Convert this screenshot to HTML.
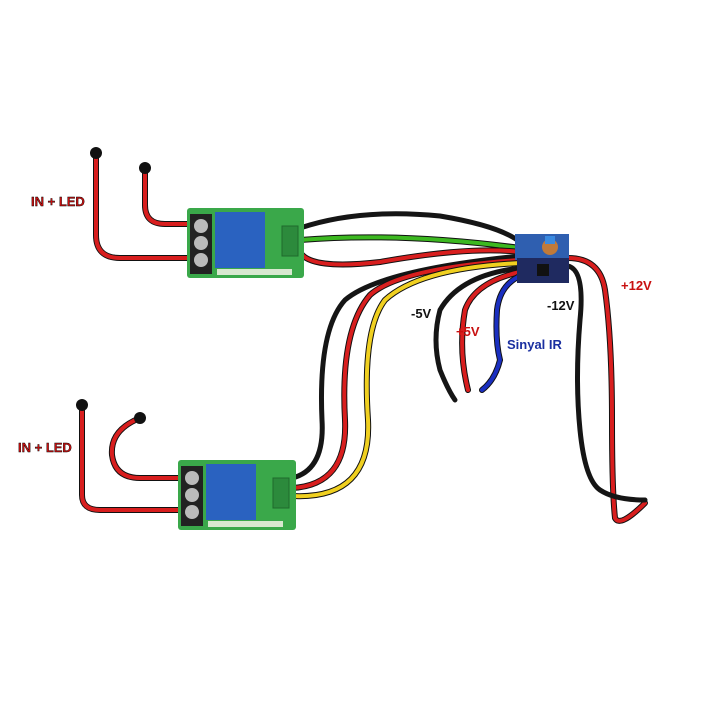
<!DOCTYPE html>
<html><head><style>
html,body{margin:0;padding:0;background:#fff;}
svg{display:block}
text{font-family:"Liberation Sans",sans-serif;font-weight:bold;font-size:13px}
</style></head><body>
<svg width="726" height="726" viewBox="0 0 726 726" xmlns="http://www.w3.org/2000/svg">
<g fill="none" stroke-linecap="round" stroke-width="4">
<path d="M96 153 L96 235 Q96 258 120 258 L190 258" stroke="#111" stroke-width="6"/>
<path d="M96 153 L96 235 Q96 258 120 258 L190 258" stroke="#d81e1e"/>
<path d="M145 168 L145 205 Q145 224 165 224 L190 224" stroke="#111" stroke-width="6"/>
<path d="M145 168 L145 205 Q145 224 165 224 L190 224" stroke="#d81e1e"/>
<path d="M82 405 L82 495 Q82 510 100 510 L182 510" stroke="#111" stroke-width="6"/>
<path d="M82 405 L82 495 Q82 510 100 510 L182 510" stroke="#d81e1e"/>
<path d="M140 418 Q110 430 112 455 Q115 478 140 478 L182 478" stroke="#111" stroke-width="6"/>
<path d="M140 418 Q110 430 112 455 Q115 478 140 478 L182 478" stroke="#d81e1e"/>
<path d="M300 228 Q360 208 440 216 Q500 226 520 242" stroke="#151515" stroke-width="5"/>
<path d="M300 240 Q400 232 520 248" stroke="#111" stroke-width="6"/>
<path d="M300 240 Q400 232 520 248" stroke="#3cb820"/>
<path d="M300 252 Q310 270 380 262 Q470 246 520 252" stroke="#111" stroke-width="6"/>
<path d="M300 252 Q310 270 380 262 Q470 246 520 252" stroke="#d81e1e"/>
<path d="M292 478 Q325 470 322 420 Q318 330 345 300 Q380 270 520 256" stroke="#151515" stroke-width="5"/>
<path d="M292 488 Q348 485 345 420 Q340 330 370 295 Q400 268 520 260" stroke="#111" stroke-width="6"/>
<path d="M292 488 Q348 485 345 420 Q340 330 370 295 Q400 268 520 260" stroke="#d81e1e"/>
<path d="M292 496 Q372 500 368 420 Q362 330 385 300 Q420 268 520 263" stroke="#111" stroke-width="6"/>
<path d="M292 496 Q372 500 368 420 Q362 330 385 300 Q420 268 520 263" stroke="#f0d020"/>
<path d="M520 268 Q460 275 440 310 Q432 340 440 370 Q448 390 455 400" stroke="#151515" stroke-width="5"/>
<path d="M520 272 Q475 282 465 310 Q458 350 468 390" stroke="#111" stroke-width="6"/>
<path d="M520 272 Q475 282 465 310 Q458 350 468 390" stroke="#d81e1e"/>
<path d="M520 276 Q500 285 497 310 Q495 340 500 360 Q495 380 482 390" stroke="#111" stroke-width="6"/>
<path d="M520 276 Q500 285 497 310 Q495 340 500 360 Q495 380 482 390" stroke="#1a2fc0"/>
<path d="M568 258 Q600 258 605 290 Q612 340 612 420 Q612 490 615 518 Q620 528 645 503" stroke="#111" stroke-width="6"/>
<path d="M568 258 Q600 258 605 290 Q612 340 612 420 Q612 490 615 518 Q620 528 645 503" stroke="#d81e1e"/>
<path d="M568 266 Q585 270 580 320 Q575 380 580 430 Q585 480 600 490 Q615 500 645 500" stroke="#151515" stroke-width="5"/>
</g>
<circle cx="96" cy="153" r="6" fill="#111"/>
<circle cx="145" cy="168" r="6" fill="#111"/>
<circle cx="82" cy="405" r="6" fill="#111"/>
<circle cx="140" cy="418" r="6" fill="#111"/>
<g transform="translate(187,208)">
<rect width="117" height="70" rx="3" fill="#3aa84a"/>
<rect x="3" y="6" width="22" height="60" fill="#222"/>
<circle cx="14" cy="18" r="7" fill="#bbb"/><circle cx="14" cy="35" r="7" fill="#bbb"/><circle cx="14" cy="52" r="7" fill="#bbb"/>
<rect x="28" y="4" width="50" height="56" fill="#2a62c0"/>
<rect x="95" y="18" width="16" height="30" fill="#2c8a3c" stroke="#1f6a2c"/>
<rect x="30" y="61" width="75" height="6" fill="#d8e8d0"/>
</g>
<g transform="translate(178,460)">
<rect width="118" height="70" rx="3" fill="#3aa84a"/>
<rect x="3" y="6" width="22" height="60" fill="#222"/>
<circle cx="14" cy="18" r="7" fill="#bbb"/><circle cx="14" cy="35" r="7" fill="#bbb"/><circle cx="14" cy="52" r="7" fill="#bbb"/>
<rect x="28" y="4" width="50" height="56" fill="#2a62c0"/>
<rect x="95" y="18" width="16" height="30" fill="#2c8a3c" stroke="#1f6a2c"/>
<rect x="30" y="61" width="75" height="6" fill="#d8e8d0"/>
</g>
<rect x="515" y="234" width="54" height="26" fill="#2f5fb0"/>
<circle cx="550" cy="247" r="8" fill="#c07a3a"/>
<rect x="545" y="236" width="10" height="8" fill="#3a8ae0"/>
<rect x="517" y="258" width="52" height="25" fill="#1f2a60"/>
<rect x="537" y="264" width="12" height="12" fill="#111"/>
<text x="31" y="206" fill="#c81010" stroke="#000" stroke-width="0.4">IN + LED</text>
<text x="18" y="452" fill="#c81010" stroke="#000" stroke-width="0.4">IN + LED</text>
<text x="411" y="318" fill="#111">-5V</text>
<text x="456" y="336" fill="#c81010">+5V</text>
<text x="507" y="349" fill="#1a2fa0">Sinyal IR</text>
<text x="547" y="310" fill="#111">-12V</text>
<text x="621" y="290" fill="#c81010">+12V</text>
</svg>
</body></html>
